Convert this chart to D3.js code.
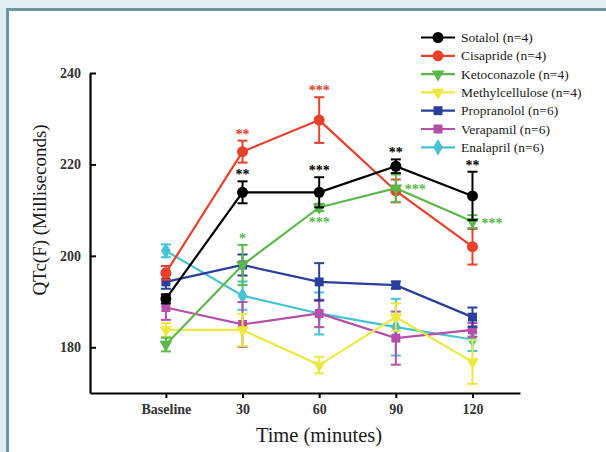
<!DOCTYPE html>
<html lang="en">
<head>
<meta charset="UTF-8">
<title>QTc chart</title>
<script src="https://cdn.jsdelivr.net/npm/d3@7/dist/d3.min.js"></script>
<style>
    body { margin: 0; background: #e3eef4; }
    #chart { width: 606px; height: 452px; }
    svg text { font-family: "Liberation Serif", "Times New Roman", serif; fill: #1a1a1a; }
</style>
</head>
<body>
<div id="chart"></div>
<script>
    // ---- data ----
    let timeLabels = ["Baseline", "30", "60", "90", "120"];
    let seriesNames = ["Sotalol (n=4)", "Cisapride (n=4)", "Ketoconazole (n=4)", "Methylcellulose (n=4)",
        "Propranolol (n=6)", "Verapamil (n=6)", "Enalapril (n=6)"];
    let sotalolMean = [190.6, 213.9, 213.9, 219.6, 213.1];
    let sotalolSem = [1.0, 2.4, 3.3, 1.5, 5.3];
    let cisaprideMean = [196.3, 222.8, 229.7, 214.2, 202.0];
    let cisaprideSem = [1.5, 2.4, 5.0, 2.5, 3.9];
    let ketoMean = [180.6, 198.0, 210.6, 214.8, 207.5];
    let ketoSem = [1.5, 4.4, 0.8, 3.0, 1.4];
    let methylMean = [183.8, 183.8, 176.1, 186.6, 176.8];
    let methylSem = [1.5, 3.5, 1.8, 3.0, 4.8];
    let propMean = [194.3, 198.0, 194.3, 193.6, 186.6];
    let propSem = [1.5, 2.3, 4.1, 0.8, 2.1];
    let verapMean = [188.7, 185.0, 187.4, 182.0, 183.8];
    let verapSem = [2.7, 4.9, 3.0, 5.8, 1.5];
    let enalMean = [201.1, 191.3, 187.4, 184.4, 181.7];
    let enalSem = [1.4, 3.1, 4.6, 6.2, 2.5];
    let yTicks = [180, 200, 220, 240];
    // significance marks: series index, time index, label, side
    let stars = [
        [1, 1, "**", "above"], [0, 1, "**", "above"], [1, 2, "***", "above"], [0, 2, "***", "above"],
        [0, 3, "**", "above"], [0, 4, "**", "above"], [2, 1, "*", "above"], [2, 2, "***", "below"],
        [2, 3, "***", "right"], [2, 4, "***", "right"]
    ];

    let means = [sotalolMean, cisaprideMean, ketoMean, methylMean, propMean, verapMean, enalMean];
    let sems = [sotalolSem, cisaprideSem, ketoSem, methylSem, propSem, verapSem, enalSem];

    // ---- styles ----
    let colors = ["#000000", "#e9402b", "#5bb84a", "#ece83e", "#2a3f9c", "#b74ea9", "#45c3d3"];
    let shapes = ["circle", "circle", "tri", "tri", "square", "square", "diamond"];
    let serif = "'Liberation Serif', 'Times New Roman', serif";

    let svg = d3.select("#chart").append("svg").attr("width", 606).attr("height", 452);

    // frame
    svg.append("rect").attr("x", 0).attr("y", 0).attr("width", 606).attr("height", 452).attr("fill", "#e3eef4");
    svg.append("rect").attr("x", 7.5).attr("y", 9.5).attr("width", 610).attr("height", 460)
        .attr("fill", "#ffffff").attr("stroke", "#6d95a4").attr("stroke-width", 3);

    let x = d3.scaleLinear().domain([-0.99, 4.62]).range([90, 520]);
    let y = d3.scaleLinear().domain([170, 240]).range([393, 73]);

    // axes
    let yAxis = d3.axisLeft(y).tickValues(yTicks).tickSizeInner(-6).tickSizeOuter(0).tickPadding(9);
    let gy = svg.append("g").attr("transform", "translate(90,0)").call(yAxis);
    gy.select(".domain").attr("stroke-width", 2.2);
    gy.selectAll(".tick line").attr("stroke-width", 2);
    gy.selectAll(".tick text").attr("font-size", 14).attr("font-weight", "bold")
        .style("font-family", serif).style("fill", "#333");

    let xAxis = d3.axisBottom(x).tickValues([0, 1, 2, 3, 4]).tickFormat(i => timeLabels[i])
        .tickSizeInner(5).tickSizeOuter(0).tickPadding(6);
    let gx = svg.append("g").attr("transform", "translate(0,393)").call(xAxis);
    gx.select(".domain").attr("stroke-width", 2.2);
    gx.selectAll(".tick line").attr("stroke-width", 2);
    gx.selectAll(".tick text").attr("font-size", 14).attr("font-weight", "bold")
        .style("font-family", serif).style("fill", "#333");

    svg.append("text").attr("x", 319).attr("y", 442).attr("text-anchor", "middle")
        .style("font-family", serif).attr("font-size", 20.5).text("Time (minutes)");
    svg.append("text").attr("transform", "translate(46,210) rotate(-90)").attr("text-anchor", "middle")
        .style("font-family", serif).attr("font-size", 19).text("QTc(F) (Milliseconds)");

    let symbolOf = (s) => {
        if (s === "circle") return d3.symbol().type(d3.symbolCircle).size(95)();
        if (s === "square") return d3.symbol().type(d3.symbolSquare).size(80)();
        if (s === "diamond") return d3.symbol().type(d3.symbolDiamond).size(80)();
        return d3.symbol().type(d3.symbolTriangle).size(70)();
    };

    let line = d3.line().x((d, i) => x(i)).y(d => y(d));

    // draw back to front so Sotalol ends on top
    let order = [6, 5, 4, 3, 1, 2, 0];
    order.forEach(k => {
        let g = svg.append("g");
        let m = means[k], e = sems[k];
        g.append("path").attr("d", line(m)).attr("fill", "none")
            .attr("stroke", colors[k]).attr("stroke-width", 2.2);
        m.forEach((v, i) => {
            let cx = x(i);
            g.append("line").attr("x1", cx).attr("x2", cx).attr("y1", y(v - e[i])).attr("y2", y(v + e[i]))
                .attr("stroke", colors[k]).attr("stroke-width", 2);
            [v - e[i], v + e[i]].forEach(c => {
                g.append("line").attr("x1", cx - 5).attr("x2", cx + 5).attr("y1", y(c)).attr("y2", y(c))
                    .attr("stroke", colors[k]).attr("stroke-width", 2);
            });
            g.append("path").attr("d", symbolOf(shapes[k]))
                .attr("transform", "translate(" + cx + "," + y(v) + ")" + (shapes[k] === "tri" ? " rotate(180)" : ""))
                .attr("fill", colors[k]);
        });
    });

    // stars
    stars.forEach(s => {
        let k = s[0], i = s[1];
        let v = means[k][i], e = sems[k][i];
        let t = svg.append("text").attr("font-size", 14).attr("font-weight", "bold")
            .style("font-family", serif).style("fill", colors[k]).text(s[2]);
        if (s[3] === "above") {
            t.attr("x", x(i)).attr("y", y(v + e) - 8 + 6).attr("text-anchor", "middle");
        } else if (s[3] === "below") {
            t.attr("x", x(i)).attr("y", y(v - e) + 10 + 6).attr("text-anchor", "middle");
        } else {
            t.attr("x", x(i) + 9).attr("y", y(v) + 6).attr("text-anchor", "start");
        }
    });

    // legend
    let legend = svg.append("g").attr("transform", "translate(421,37.5)");
    seriesNames.forEach((name, k) => {
        let row = legend.append("g").attr("transform", "translate(0," + (k * 18.3) + ")");
        row.append("line").attr("x1", 0).attr("x2", 34).attr("y1", 0).attr("y2", 0)
            .attr("stroke", colors[k]).attr("stroke-width", 2.2);
        row.append("path").attr("d", symbolOf(shapes[k]))
            .attr("transform", "translate(17,0)" + (shapes[k] === "tri" ? " rotate(180)" : ""))
            .attr("fill", colors[k]);
        row.append("text").attr("x", 40).attr("y", 4.5).attr("font-size", 13.5)
            .style("font-family", serif).text(name);
    });
</script>
</body>
</html>
